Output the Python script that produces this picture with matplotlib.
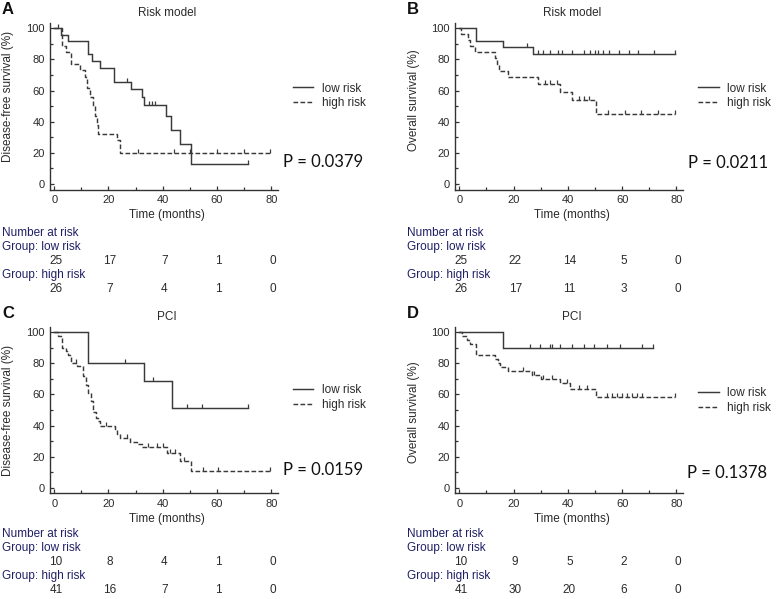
import numpy as np
import matplotlib
matplotlib.use("Agg")
import matplotlib.pyplot as plt
from matplotlib.lines import Line2D
from matplotlib.transforms import blended_transform_factory
import matplotlib.markers as mmarkers

W, H, DPI = 778, 599, 100

# ---------------- data ----------------
# Panel A: Risk model, disease-free survival
a_low_t = [0, 2.5, 5.2, 12.3, 13.8, 17, 22, 28.3, 32.2, 33, 41.3, 43, 46.4, 50.5]
a_low_s = [100, 96, 92, 83.5, 79, 74.5, 65.5, 61, 56, 51, 43.5, 35, 26, 13]
a_low_end = 71.6
a_low_cens = [1.5, 27, 35, 36, 37, 71.6]
a_high_t = [0, 2.8, 4.2, 6.2, 9.5, 11.2, 12.2, 13.2, 14.2, 15.0, 15.6, 16.3, 23.3, 24.2]
a_high_s = [100, 88.5, 84.6, 76.9, 73, 69, 61.5, 56, 50, 44, 38, 32, 28, 20]
a_high_end = 79.6
a_high_cens = [31, 44, 50, 60, 70, 79.6]

# Panel B: Risk model, overall survival
b_low_t = [0, 6.2, 16.2, 27]
b_low_s = [100, 92, 88, 83.5]
b_low_end = 79.6
b_low_cens = [25, 29, 31, 33.5, 36.5, 38, 41.5, 46, 48.3, 50, 51.3, 53, 55, 58.7,
              62.4, 66, 71.6, 79.6]
b_high_t = [0, 0.6, 3.3, 4, 5.8, 13.2, 14, 14.8, 18, 29, 37, 41.5, 50.5]
b_high_s = [100, 96.2, 92.3, 88.5, 84.6, 80.8, 76.9, 72.7, 68.5, 64.2, 59.3, 54, 45]
b_high_end = 79.6
b_high_cens = [31.6, 33.5, 36, 44, 45.8, 47.7, 54.7, 61, 67, 73.2, 79.6]

# Panel C: PCI, disease-free survival
c_low_t = [0, 12.3, 33.2, 43.3]
c_low_s = [100, 80, 68.6, 51.4]
c_low_end = 71.6
c_low_cens = [26, 36.5, 49, 54.4, 71.6]
c_high_t = [0, 1.5, 2.7, 4.2, 5.2, 6.2, 8.5, 10.7, 11.7, 12.6, 13.4, 14.4, 15.3, 16,
            16.9, 22.4, 23.3, 24.2, 28, 30.4, 32.2, 41.5, 46.4, 50.5]
c_high_s = [100, 97.6, 90.2, 87.8, 85.4, 80.5, 78, 72, 66, 61, 56, 48.5, 45, 42.8,
            40, 37.7, 34.7, 32, 29.5, 28, 26.2, 22, 17.2, 11]
c_high_end = 79.6
c_high_cens = [8, 19, 27, 34.7, 37.8, 40.2, 42.7, 44.5, 48, 55, 60.5, 79.6]

# Panel D: PCI, overall survival
d_low_t = [0, 16.2]
d_low_s = [100, 90]
d_low_end = 71.3
d_low_cens = [26, 29.8, 33.5, 34.2, 37.2, 41.5, 45.8, 49.5, 54.4, 59.3, 67.3, 71.3]
d_high_t = [0, 1, 2.7, 4, 6.2, 13.2, 14.4, 15, 18, 26.7, 30, 37.2, 40.9, 50.5]
d_high_s = [100, 97.6, 95.1, 92.7, 85.4, 82.9, 80.4, 77.7, 75.2, 72.6, 70, 67.3, 63.4, 58.2]
d_high_end = 79.6
d_high_cens = [23.6, 27.6, 31, 34, 39.6, 44, 47, 54.4, 56.2, 58, 60, 61.8, 63.6,
               65.5, 67.3, 79.6]

risk_times = [0, 20, 40, 60, 80]
a_risk_low = [25, 17, 7, 1, 0]
a_risk_high = [26, 7, 4, 1, 0]
b_risk_low = [25, 22, 14, 5, 0]
b_risk_high = [26, 17, 11, 3, 0]
c_risk_low = [10, 8, 4, 1, 0]
c_risk_high = [41, 16, 7, 1, 0]
d_risk_low = [10, 9, 5, 2, 0]
d_risk_high = [41, 30, 20, 6, 0]

letters = ["A", "B", "C", "D"]
titles = ["Risk model", "Risk model", "PCI", "PCI"]
ylabels = ["Disease-free survival (%)", "Overall survival (%)",
           "Disease-free survival (%)", "Overall survival (%)"]
pvals = ["P = 0.0379", "P = 0.0211", "P = 0.0159", "P = 0.1378"]
series_names = ["low risk", "high risk"]

# ---------------- style ----------------
LINE = "#3a3a3a"
AXC = "#333333"
TXT = "#2a2a2a"
NAVY = "#1f1f66"
SANS = ["Liberation Sans", "DejaVu Sans"]
plt.rcParams["font.family"] = SANS

fig = plt.figure(figsize=(W / DPI, H / DPI), dpi=DPI)
fig.patch.set_facecolor("white")


def fx(px):
    return px / W


def fy(py):
    return 1 - py / H


XLIM = (-1.75, 82.6)
YLIM = (-3.5, 103.2)

# pixel layout per panel: axes box (l, t, r, b)
boxes = [(49.5, 23.3, 278.3, 189.5), (454.6, 23.3, 683.4, 189.5),
         (49.5, 327.3, 278.3, 493.1), (454.6, 327.3, 683.4, 493.1)]
table_off = [43.5, 43.5, 40.5, 40.5]
ylab_y = [96, 100, 410, 412]
ylab_x = [8.5, 414, 8.5, 414]
p_pos = [(283.3, 161.7), (687.7, 163.3), (283.3, 470), (686.7, 473.3)]
leg_top = [82.5, 82.5, 384, 387.5]

panel_data = [
    (a_low_t, a_low_s, a_low_end, a_low_cens, a_high_t, a_high_s, a_high_end, a_high_cens,
     a_risk_low, a_risk_high),
    (b_low_t, b_low_s, b_low_end, b_low_cens, b_high_t, b_high_s, b_high_end, b_high_cens,
     b_risk_low, b_risk_high),
    (c_low_t, c_low_s, c_low_end, c_low_cens, c_high_t, c_high_s, c_high_end, c_high_cens,
     c_risk_low, c_risk_high),
    (d_low_t, d_low_s, d_low_end, d_low_cens, d_high_t, d_high_s, d_high_end, d_high_cens,
     d_risk_low, d_risk_high),
]

DASH = (0, (3.2, 1.6))


def km(ax, t, s, end, cens, ls):
    tt = list(t) + [end]
    ss = list(s) + [s[-1]]
    ax.step(tt, ss, where="post", color=LINE, lw=1.05, ls=ls, solid_joinstyle="miter")
    idx = np.searchsorted(np.asarray(t), np.asarray(cens), side="right") - 1
    cy = np.asarray(s)[idx]
    ax.plot(cens, cy, ls="none", marker=mmarkers.TICKUP, ms=3.2, mew=0.9, color=LINE)


for i in range(4):
    l, t, r, b = boxes[i]
    ax = fig.add_axes([fx(l), fy(b), fx(r - l), (b - t) / H])
    (lt, ls_, le, lc, ht, hs, he, hc, rl, rh) = panel_data[i]
    km(ax, lt, ls_, le, lc, "-")
    km(ax, ht, hs, he, hc, DASH)
    ax.set_xlim(*XLIM)
    ax.set_ylim(*YLIM)
    for sp in ["top", "right"]:
        ax.spines[sp].set_visible(False)
    for sp in ["left", "bottom"]:
        ax.spines[sp].set_color(AXC)
        ax.spines[sp].set_linewidth(1.0)
    ax.set_xticks([0, 20, 40, 60, 80])
    ax.set_xticks([10, 30, 50, 70], minor=True)
    ax.set_yticks([0, 20, 40, 60, 80, 100])
    ax.set_yticks([10, 30, 50, 70, 90], minor=True)
    ax.tick_params(which="major", direction="in", length=3.2, width=0.9, color=AXC,
                   labelsize=8, labelcolor=TXT)
    ax.tick_params(which="minor", direction="in", length=2.2, width=0.9, color=AXC)
    ax.tick_params(axis="y", which="major", pad=3.5)
    ax.tick_params(axis="x", which="major", pad=4)

    cx = l + (r - l) * 0.512
    # title
    fig.text(fx(cx), fy(t - 10), titles[i], ha="center", va="center", fontsize=8.5, color=TXT)
    # panel letter
    fig.text(fx(l - 47.5), fy(t - 14), letters[i], ha="left", va="center", fontsize=12,
             fontweight="bold", color="#111111")
    # y label
    fig.text(fx(ylab_x[i]), fy(ylab_y[i]), ylabels[i], rotation=90, ha="center",
             va="center", fontsize=8.5, color=TXT)
    # x label
    fig.text(fx(cx), fy(b + 25.5), "Time (months)", ha="center", va="center",
             fontsize=8.5, color=TXT)
    # legend
    handles = [Line2D([], [], color=LINE, lw=1.05, ls="-"),
               Line2D([], [], color=LINE, lw=1.05, ls=DASH)]
    ax.legend(handles, series_names, loc="upper left",
              bbox_to_anchor=(fx(r + 14.5), fy(leg_top[i])),
              bbox_transform=fig.transFigure, frameon=False, fontsize=8.5,
              handlelength=1.75, handletextpad=0.7, labelspacing=0.25,
              borderpad=0, borderaxespad=0, labelcolor=TXT,
              prop={"family": SANS, "size": 8.5})
    # p-value
    px, py = p_pos[i]
    fig.text(fx(px), fy(py), pvals[i], ha="left", va="center", fontsize=12,
             family=["Lato", "DejaVu Sans"], color="#111111")
    # number at risk table
    yo = b + table_off[i]
    x0 = l - 47.5
    fig.text(fx(x0), fy(yo), "Number at risk", ha="left", va="center", fontsize=8.5,
             color=NAVY)
    fig.text(fx(x0), fy(yo + 14), "Group: low risk", ha="left", va="center",
             fontsize=8.5, color=NAVY)
    fig.text(fx(x0), fy(yo + 42), "Group: high risk", ha="left", va="center",
             fontsize=8.5, color=NAVY)
    trans = blended_transform_factory(ax.transData, fig.transFigure)
    for tm, n1, n2 in zip(risk_times, rl, rh):
        ax.text(tm + 0.6, fy(yo + 28.5), str(n1), transform=trans, ha="center",
                va="center", fontsize=8.5, color=TXT, clip_on=False)
        ax.text(tm + 0.6, fy(yo + 56), str(n2), transform=trans, ha="center",
                va="center", fontsize=8.5, color=TXT, clip_on=False)

fig.savefig("out.png", dpi=DPI, facecolor="white")
